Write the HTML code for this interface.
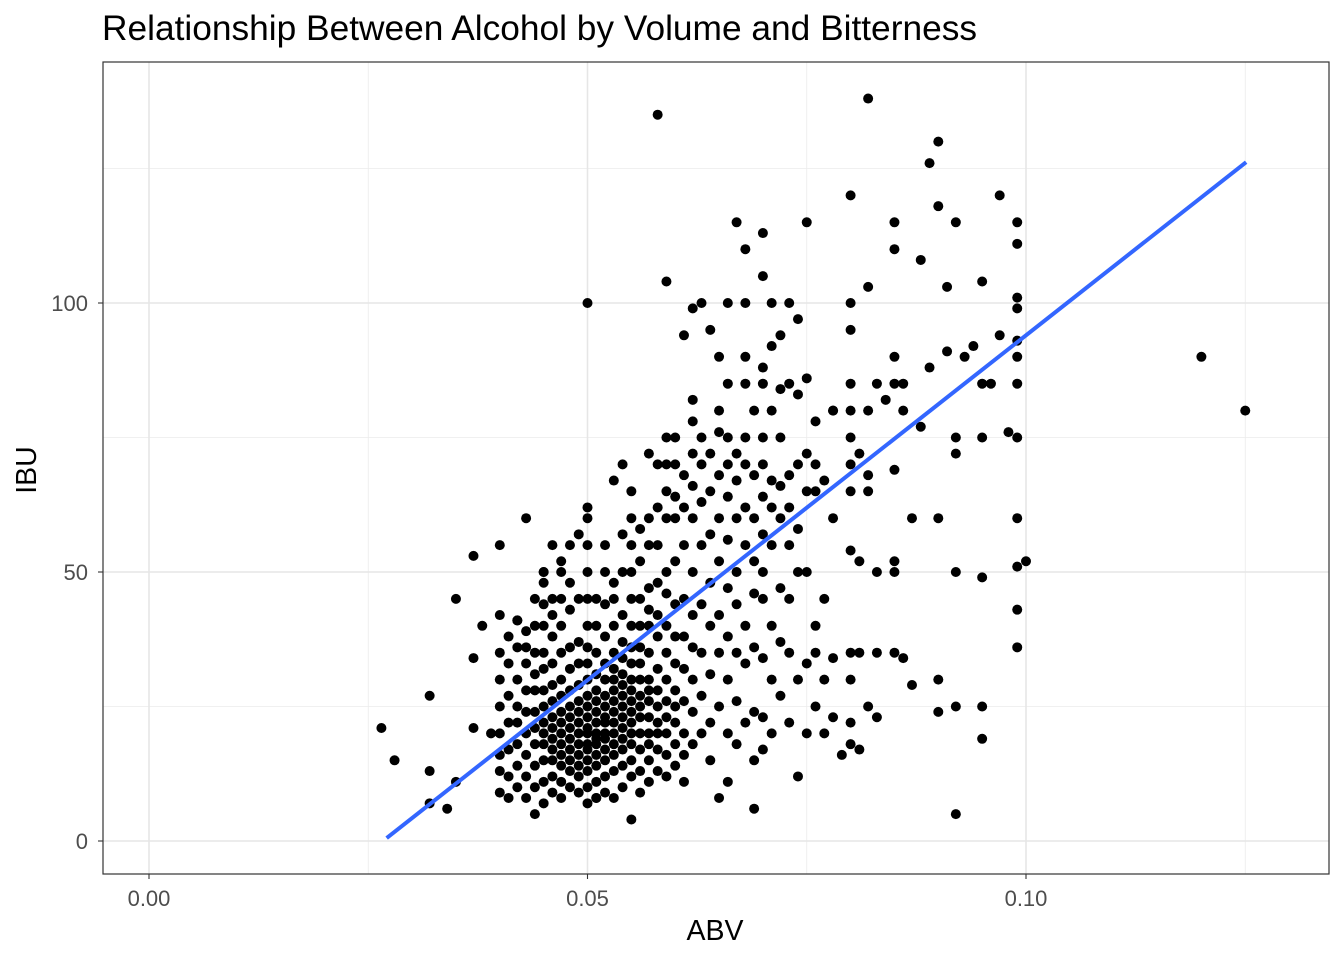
<!DOCTYPE html>
<html><head><meta charset="utf-8">
<style>
html,body{margin:0;padding:0;background:#fff;}
svg{display:block;font-family:"Liberation Sans",Arial,sans-serif;}
</style></head>
<body>
<svg id="chart" width="1344" height="960" viewBox="0 0 1344 960">
<rect width="1344" height="960" fill="#fff"/>
<text x="102" y="40" font-size="35" textLength="875" lengthAdjust="spacingAndGlyphs" fill="#000">Relationship Between Alcohol by Volume and Bitterness</text>
<g id="grid"></g>
<g id="ticks"></g>
<g id="points"></g>
<g id="fit"></g>
<rect x="103" y="62" width="1226" height="812" fill="none" stroke="#333" stroke-width="1.2"/>
<text x="715" y="940" font-size="28.5" text-anchor="middle" fill="#000">ABV</text>
<text transform="translate(36,470) rotate(-90)" font-size="28.5" text-anchor="middle" fill="#000">IBU</text>
</svg>
<script>
const xTicks=[0,0.05,0.10];
const xTickLabels=["0.00","0.05","0.10"];
const xMinor=[0.025,0.075,0.125];
const yTicks=[0,50,100];
const yTickLabels=["0","50","100"];
const yMinor=[25,75,125];
const fitIntercept=-34.2;
const fitSlope=1282;
const fitRange=[0.0271,0.1251];
const looseAbv=[0.0265,0.028,0.032,0.032,0.032,0.034,0.035,0.035,0.037,0.037,0.037,0.038,0.039,0.040,0.042,0.043,0.043,0.045,0.046,0.047,0.049,0.050,0.050,0.051,0.053,0.054,0.056,0.057,0.058,0.059,0.060,0.061,0.062,0.062,0.063,0.064,0.065,0.065,0.066,0.067,0.068,0.068,0.069,0.070,0.070,0.071,0.072,0.073,0.074,0.074,0.075,0.076,0.076,0.077,0.078,0.079,0.080,0.080,0.080,0.080,0.081,0.082,0.082,0.083,0.083,0.084,0.085,0.085,0.085,0.085,0.086,0.087,0.087,0.088,0.088,0.089,0.089,0.090,0.090,0.090,0.090,0.090,0.091,0.091,0.092,0.092,0.092,0.092,0.092,0.092,0.093,0.094,0.095,0.095,0.095,0.095,0.095,0.095,0.096,0.097,0.097,0.098,0.099,0.099,0.099,0.099,0.099,0.099,0.099,0.099,0.099,0.099,0.099,0.099,0.100,0.120,0.125];
const looseIbu=[21,15,27,13,7,6,11,45,53,34,21,40,20,55,41,36,60,50,55,52,57,100,62,8,67,70,58,72,135,104,75,94,82,99,100,95,90,8,100,115,100,110,6,113,105,100,94,100,97,12,115,78,40,45,80,16,18,120,100,95,17,103,138,50,23,82,90,115,110,69,34,29,60,108,77,88,126,130,118,60,30,24,91,103,115,75,72,50,25,5,90,92,104,85,75,49,25,19,85,120,94,76,115,111,101,99,93,90,85,75,60,51,43,36,52,90,80];
const colAbv=[0.040,0.041,0.042,0.043,0.044,0.045,0.046,0.047,0.048,0.049,0.050,0.051,0.052,0.053,0.054,0.055,0.056,0.057,0.058,0.059,0.060,0.061,0.062,0.063,0.064,0.065,0.066,0.067,0.068,0.069,0.070,0.071,0.072,0.073,0.074,0.075,0.076,0.077,0.078,0.080,0.081,0.082,0.083,0.085,0.086];
const colIbu=[
[9,13,16,20,25,30,35,42],[8,12,17,22,27,33,38],[10,14,18,22,25,30,36,41],[8,12,16,20,24,28,33,39],
[5,10,14,18,21,24,28,31,35,40,45],[7,11,15,18,20,22,25,28,32,35,40,44,48,50],[9,12,15,17,19,21,23,26,29,33,38,42,45],
[8,11,14,16,18,20,22,24,27,30,35,40,45,50],[10,13,15,17,19,21,23,25,28,32,36,43,48,55],[9,12,14,16,18,20,22,24,26,29,33,37,45],
[7,10,13,15,17,18,20,21,23,25,27,30,33,36,40,45,50,55,60],[8,11,14,16,18,19,20,22,24,26,28,31,35,40,45],
[9,12,15,17,19,20,22,23,25,27,30,33,38,44,50,55],[8,13,16,18,20,22,24,26,28,30,32,35,40,45,48],
[10,14,17,19,21,23,25,27,29,31,34,37,42,50,57],[4,12,15,18,20,22,24,26,28,30,33,36,40,45,50,55,60,65],
[9,13,17,20,23,25,27,30,33,36,40,45,52],[11,15,18,20,23,26,28,30,35,40,43,47,55,60],
[13,17,20,22,25,28,32,38,42,48,55,62,70],[12,16,20,23,26,30,35,40,46,50,60,65,70,75],
[14,18,22,25,28,33,38,44,52,60,64,70],[11,16,20,26,32,38,45,55,62,68],[18,24,30,36,42,50,60,66,72,78],
[20,27,35,44,55,63,70,75],[15,22,31,40,48,57,65,72],[25,35,42,52,60,68,76,80],[11,20,30,38,47,56,64,70,75,85],
[18,26,35,44,50,60,67,72],[22,33,40,55,62,70,75,85,90],[15,24,36,46,52,60,68,80],[17,23,34,45,50,57,64,70,75,85,88],
[20,30,40,55,62,67,80,92],[27,37,47,60,66,75,84],[22,35,45,55,62,68,85],[30,50,58,70,83],[20,33,50,65,72,86],
[25,35,65,70],[20,30,67],[23,34,60,80],[22,30,35,54,65,70,75,80,85],[35,52,72],[25,65,68,80],[35,85],[35,50,52,85],[85,80]];

const NS="http://www.w3.org/2000/svg";
const X0=103,X1=1329,Y0=62,Y1=874;
function sx(v){return 149+v*8770;}
function sy(v){return 841-v*5.38;}
function mk(tag,attrs,parent){const e=document.createElementNS(NS,tag);for(const k in attrs)e.setAttribute(k,attrs[k]);document.getElementById(parent).appendChild(e);return e;}
xMinor.forEach(v=>{const e=mk('line',{x1:sx(v),x2:sx(v),y1:Y0,y2:Y1,stroke:'#ebebeb','stroke-width':0.8},'grid');

});
yMinor.forEach(v=>{const e=mk('line',{x1:X0,x2:X1,y1:sy(v),y2:sy(v),stroke:'#ebebeb','stroke-width':0.8},'grid');

});
xTicks.forEach((v,i)=>{const e=mk('line',{x1:sx(v),x2:sx(v),y1:Y0,y2:Y1,stroke:'#e6e6e6','stroke-width':1.6},'grid');


const t=mk('line',{x1:sx(v),x2:sx(v),y1:Y1,y2:Y1+5,stroke:'#333','stroke-width':1.1},'ticks');


const l=mk('text',{x:sx(v),y:906,'font-size':22,'text-anchor':'middle',fill:'#4d4d4d'},'ticks');l.textContent=xTickLabels[i];

});
yTicks.forEach((v,i)=>{const e=mk('line',{x1:X0,x2:X1,y1:sy(v),y2:sy(v),stroke:'#e6e6e6','stroke-width':1.6},'grid');


const t=mk('line',{x1:X0-5,x2:X0,y1:sy(v),y2:sy(v),stroke:'#333','stroke-width':1.1},'ticks');


const l=mk('text',{x:X0-15,y:sy(v)+8,'font-size':22,'text-anchor':'end',fill:'#4d4d4d'},'ticks');l.textContent=yTickLabels[i];

});
function dot(a,b){const c=mk('circle',{cx:sx(a),cy:sy(b),r:5,fill:'#000'},'points');

}
looseAbv.forEach((a,i)=>dot(a,looseIbu[i]));
colAbv.forEach((a,i)=>colIbu[i].forEach(b=>dot(a,b)));
const f=mk('line',{x1:sx(fitRange[0]),y1:sy(fitIntercept+fitSlope*fitRange[0]),x2:sx(fitRange[1]),y2:sy(fitIntercept+fitSlope*fitRange[1]),stroke:'#3366ff','stroke-width':4},'fit');


</script>
</body></html>
